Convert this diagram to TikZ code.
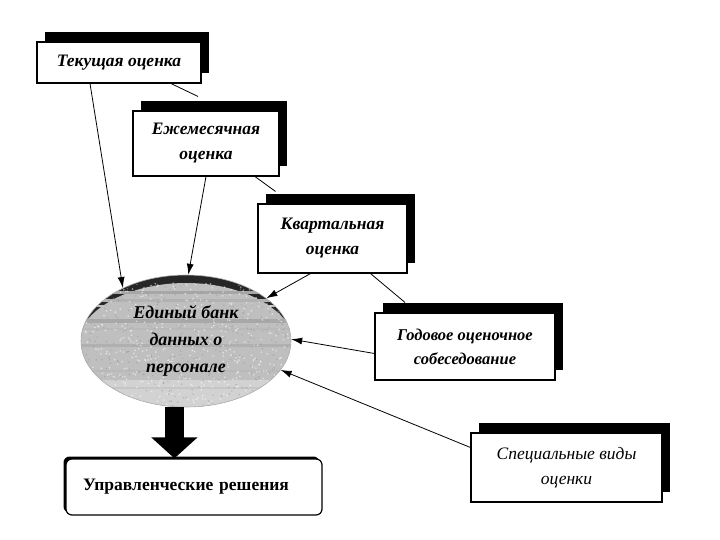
\documentclass[tikz,border=0pt]{standalone}
\usepackage{fontspec}
\setmainfont{Liberation Serif}
\usetikzlibrary{shapes.geometric,arrows.meta,shadows,calc}
\begin{document}
\begin{tikzpicture}[x=1pt,y=-1pt,
  ebox/.style={draw=black, line width=1.1pt, fill=white, inner sep=0pt, align=center,
    drop shadow={shadow xshift=8pt, shadow yshift=10pt, fill=black, opacity=1}},
  lbl/.style={font=\fontsize{17.5}{25}\selectfont\bfseries\itshape},
  conn/.style={line width=0.8pt},
  arr/.style={conn, -{Latex[length=11pt,width=7pt]}}]
\useasboundingbox (0,0) rectangle (720,540);

% textured ellipse
\begin{scope}
  \clip (186,341) ellipse [x radius=105, y radius=66];
  \fill[black!85] (186,341) ellipse [x radius=105, y radius=66];
  \fill[gray!50] (186,349) ellipse [x radius=110, y radius=66];
  \fill[gray!35] (70,380) rectangle (300,410);
  \foreach \yy/\c/\w in {292/70/3, 300/60/3, 306/50/2, 321/68/4, 329/55/2, 345/62/3, 357/50/2, 371/55/2, 388/45/2}
    \draw[gray!\c, line width=\w pt] (70,\yy) -- (300,\yy);
  \pgfmathsetseed{7}
  \foreach \i in {1,...,500} {
    \pgfmathsetmacro\xx{186+105*rand}
    \pgfmathsetmacro\yy{345+62*rand}
    \fill[white, opacity=0.55] (\xx,\yy) circle (0.9pt);
  }
  \foreach \i in {1,...,350} {
    \pgfmathsetmacro\xx{186+105*rand}
    \pgfmathsetmacro\yy{345+62*rand}
    \fill[gray!80, opacity=0.6] (\xx,\yy) circle (0.8pt);
  }
\end{scope}
\draw[gray!60, line width=0.6pt] (186,341) ellipse [x radius=105, y radius=66];

\node[ellipse, minimum width=210pt, minimum height=132pt, inner sep=0pt, align=center,
  font=\fontsize{18}{27}\selectfont\bfseries\itshape] (db) at (186,341)
  {Единый банк\\данных о\\персонале};

% boxes
\node[ebox, lbl, minimum width=164pt, minimum height=41pt] (t) at (119,62.5) {Текущая оценка};
\node[ebox, lbl, minimum width=146pt, minimum height=65pt] (e) at (206,143.5) {Ежемесячная\\оценка};
\node[ebox, lbl, minimum width=149pt, minimum height=69pt] (k) at (332.5,238.5) {Квартальная\\оценка};
\node[ebox, lbl, font=\fontsize{16.5}{24}\selectfont\bfseries\itshape, minimum width=180pt, minimum height=67pt] (g) at (465,346.5) {Годовое оценочное\\собеседование};
\node[ebox, font=\fontsize{17.5}{25}\selectfont\itshape, minimum width=191pt, minimum height=69pt] (s) at (566.5,467.5) {Специальные виды\\оценки};

\node[draw=black, line width=1.2pt, rounded corners=6pt, fill=white,
  drop shadow={shadow xshift=-2.5pt, shadow yshift=2.5pt, fill=black, opacity=1},
  minimum width=256pt, minimum height=56pt, inner xsep=17pt, text width=222pt, align=left,
  font=\fontsize{17.5}{20}\selectfont\bfseries] (u) at (194,487) {Управленческие решения};

% connectors
\draw[arr] ([xshift=-29pt]t.south) -- (db.140);
\draw[conn] ([xshift=52pt]t.south) -- ([xshift=-8pt,yshift=14pt]e.north);
\draw[arr] (e.south) -- (db.88);
\draw[conn] ([xshift=49pt]e.south) -- ([xshift=-57pt,yshift=12pt]k.north);
\draw[arr] ([xshift=-22pt]k.south) -- (db.28);
\draw[conn] ([xshift=38pt]k.south) -- ([xshift=-60pt,yshift=10pt]g.north);
\draw[arr] ([yshift=-7pt]g.west) -- (db.1);
\draw[arr] ([yshift=20pt]s.west) -- (db.-17);

% big arrow
\draw[line width=19pt, -{Triangle[length=21pt,width=45pt]}] (db.260) -- (db.260 |- u.north);
\end{tikzpicture}
\end{document}
